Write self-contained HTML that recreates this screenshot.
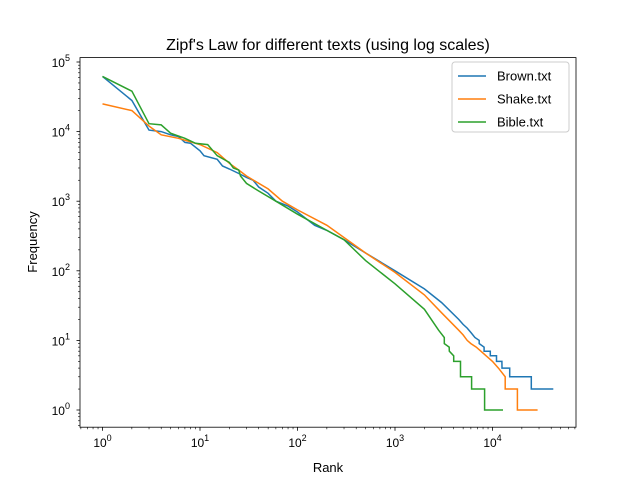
<!DOCTYPE html>
<html><head><meta charset="utf-8"><style>
body{margin:0;background:#fff}
text{font-family:"Liberation Sans","DejaVu Sans",sans-serif}
</style></head><body>
<svg id="chart" width="640" height="480" xmlns="http://www.w3.org/2000/svg">
<rect width="640" height="480" fill="#fff"/>
<text x="328" y="50" font-size="16" text-anchor="middle">Zipf's Law for different texts (using log scales)</text>
<g id="plot"></g>
<rect x="80" y="57.6" width="496" height="369.6" fill="none" stroke="#000" stroke-width="0.8"/>
<text x="328" y="472" font-size="13" text-anchor="middle">Rank</text>
<text transform="translate(37,242) rotate(-90)" font-size="13" text-anchor="middle">Frequency</text>
<g>
<rect x="452" y="62" width="117" height="70" rx="3" fill="#fff" fill-opacity="0.8" stroke="#ccc"/>
</g>
</svg>
<script>
const brownRank=[1,2,3,4,5,6,7,8,10,11,15,17,20,25,30,35,40,50,60,80,100,150,200,300,500,1000,2000,3000,4500,5000,5500,6000,6600,7300,7301,8200,8201,9500,9501,11000,11001,12500,12501,15000,15001,25000,25001,42000];
const brownFreq=[62000,28000,10500,10000,9000,8500,7000,6800,5300,4500,4000,3200,2900,2500,2200,2000,1600,1300,1000,850,700,450,380,280,180,100,55,35,20,17,15,13,11,10,9,8,7,7,6,6,5,5,4,4,3,3,2,2];
const shakeRank=[1,2,3,4,6,10,15,20,25,30,50,70,100,200,500,1000,2000,3000,4500,5000,5500,6000,6001,6800,6801,7600,7601,8600,8601,10000,10001,11500,11501,13500,13501,18000,18001,29000];
const shakeFreq=[25000,20000,12000,9000,8000,6500,5000,3500,2800,2300,1500,1000,750,450,180,95,45,25,14,12,10,9,9,8,8,7,7,6,6,5,5,4,4,3,2,2,1,1];
const bibleRank=[1,2,3,4,5,7,9,12,15,20,22,25,26,30,40,60,100,200,300,500,1000,2000,2800,3200,3201,3600,3601,4000,4001,4700,4701,6100,6101,8300,8301,12800];
const bibleFreq=[62000,38000,13000,12500,9500,8000,6800,6500,4500,3600,3000,2800,2300,1800,1400,1000,650,380,280,140,65,28,14,11,9,8,7,6,5,5,3,3,2,2,1,1];
const names=['Brown.txt','Shake.txt','Bible.txt'];
const colors=['#1f77b4','#ff7f0e','#2ca02c'];
const xTicks=[0,1,2,3,4];
const yTicks=[0,1,2,3,4,5];
const NS='http://www.w3.org/2000/svg';
const X=v=>102.5+Math.log10(v)*97.5;
const Y=v=>410-Math.log10(v)*69.6;
const svg=document.getElementById('chart');
const plot=document.getElementById('plot');
function mk(t,a,p){const e=document.createElementNS(NS,t);for(const k in a)e.setAttribute(k,a[k]);(p||svg).appendChild(e);return e;}
xTicks.forEach(p=>{const x=X(Math.pow(10,p));
const l=mk('line',{x1:x,x2:x,y1:427.2,y2:430.7,stroke:'#000','stroke-width':0.8});


const t=mk('text',{x:x,y:447,'font-size':12,'text-anchor':'middle'});


t.innerHTML='10<tspan dy="-6" font-size="9">'+p+'</tspan>';
for(let m=2;m<10;m++){const v=Math.pow(10,p)*m;const xx=X(v);if(xx>576)continue;const ml=mk('line',{x1:xx,x2:xx,y1:427.2,y2:429.2,stroke:'#000','stroke-width':0.6});

}
});
[0.3,0.4,0.5,0.6,0.7,0.8,0.9].forEach(v=>{const xx=X(v);if(xx<80)return;const ml=mk('line',{x1:xx,x2:xx,y1:427.2,y2:429.2,stroke:'#000','stroke-width':0.6});

});
yTicks.forEach(p=>{const y=Y(Math.pow(10,p));
const l=mk('line',{x1:76.5,x2:80,y1:y,y2:y,stroke:'#000','stroke-width':0.8});


const t=mk('text',{x:70,y:y+5,'font-size':12,'text-anchor':'end'});


t.innerHTML='10<tspan dy="-6" font-size="9">'+p+'</tspan>';
for(let m=2;m<10;m++){const yy=Y(Math.pow(10,p)*m);if(yy<57.6)continue;const ml=mk('line',{x1:78,x2:80,y1:yy,y2:yy,stroke:'#000','stroke-width':0.6});

}
});
[0.6,0.7,0.8,0.9].forEach(v=>{const yy=Y(v);if(yy>427)return;const ml=mk('line',{x1:78,x2:80,y1:yy,y2:yy,stroke:'#000','stroke-width':0.6});

});
const series=[[brownRank,brownFreq],[shakeRank,shakeFreq],[bibleRank,bibleFreq]];
series.forEach((s,i)=>{
const pts=s[0].map((r,j)=>X(r).toFixed(1)+','+Y(s[1][j]).toFixed(1)).join(' ');
const pl=mk('polyline',{points:pts,fill:'none',stroke:colors[i],'stroke-width':1.5},plot);


const ly=76+i*23;
const ll=mk('line',{x1:458,x2:486,y1:ly,y2:ly,stroke:colors[i],'stroke-width':1.5});


const lt=mk('text',{x:497,y:ly+4.5,'font-size':13});


lt.textContent=names[i];
});
</script>
</body></html>
